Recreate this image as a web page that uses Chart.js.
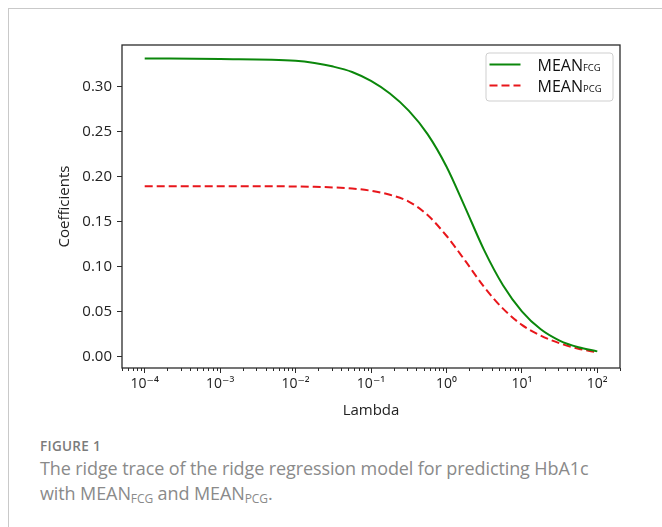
<!DOCTYPE html>
<html>
<head>
<meta charset="utf-8">
<script src="https://cdn.jsdelivr.net/npm/chart.js@4.4.1/dist/chart.umd.min.js"></script>
<style>
  body { margin: 0; background: #fff; width: 662px; height: 527px; overflow: hidden; position: relative; font-family: "Open Sans", sans-serif; }
  .frame { position: absolute; left: 8px; top: 8px; right: 0; bottom: 0; border-top: 1px solid #c9c9c9; border-left: 1px solid #c9c9c9; }
  #chartBox { position: absolute; left: 0; top: 0; width: 662px; height: 430px; }
  .fig { position: absolute; left: 40px; top: 436px; font-size: 13.5px; line-height: 20px; font-weight: 600; color: #7b7b7b; letter-spacing: 0.3px; }
  .cap { position: absolute; left: 40px; top: 456px; font-size: 18px; line-height: 25px; color: #8a8a8a; white-space: nowrap; letter-spacing: -0.1px; }
  .cap sub { font-size: 12px; vertical-align: -3px; line-height: 0; }
</style>
</head>
<body>
<div class="frame"></div>
<div id="chartBox"><canvas id="ridgeChart" width="662" height="430"></canvas></div>
<div class="fig">FIGURE 1</div>
<div class="cap">The ridge trace of the ridge regression model for predicting HbA1c<br>with MEAN<sub>FCG</sub> and MEAN<sub>PCG</sub>.</div>

<script>
// --- data ---
const lambdas = [0.0001, 0.001, 0.01, 0.0178, 0.0316, 0.0562, 0.1, 0.178, 0.316, 0.562, 1, 1.78, 3.16, 5.62, 10, 17.8, 31.6, 56.2, 100];
const meanFcg = [0.331, 0.3305, 0.3285, 0.326, 0.322, 0.316, 0.306, 0.292, 0.273, 0.247, 0.211, 0.165, 0.118, 0.079, 0.050, 0.030, 0.0175, 0.0100, 0.0055];
const meanPcg = [0.189, 0.189, 0.1888, 0.1884, 0.1877, 0.1865, 0.184, 0.1795, 0.172, 0.157, 0.134, 0.106, 0.077, 0.053, 0.035, 0.023, 0.0145, 0.0085, 0.0042];

const seriesNames = ["MEAN", "MEAN"];
const seriesSubs = ["FCG", "PCG"];

const xTickValues = [1e-4, 1e-3, 1e-2, 1e-1, 1, 10, 100];
const xTickLabels = ["10\u207B\u2074", "10\u207B\u00B3", "10\u207B\u00B2", "10\u207B\u00B9", "10\u2070", "10\u00B9", "10\u00B2"];
const yTickValues = [0, 0.05, 0.10, 0.15, 0.20, 0.25, 0.30];
const yTickLabels = ["0.00", "0.05", "0.10", "0.15", "0.20", "0.25", "0.30"];

const axisColor = "#2b2b2b";
const fontFamily = "'Open Sans', 'DejaVu Sans', sans-serif";

// box around the plot area (matplotlib style)
const framePlugin = {
  id: "frame",
  afterDraw(chart) {
    const { ctx, chartArea: a } = chart;
    ctx.save();
    ctx.strokeStyle = axisColor;
    ctx.lineWidth = 1.3;
    ctx.strokeRect(a.left, a.top, a.right - a.left, a.bottom - a.top);
    ctx.restore();
  }
};

// minor ticks of the log axis
const minorTicksPlugin = {
  id: "minorTicks",
  afterDraw(chart) {
    const { ctx, chartArea: a } = chart;
    const x = chart.scales.x;
    ctx.save();
    ctx.strokeStyle = axisColor;
    ctx.lineWidth = 1;
    for (let d = -5; d <= 2; d++) {
      for (let k = 2; k <= 9; k++) {
        const v = k * Math.pow(10, d);
        if (v < x.min || v > x.max) continue;
        const px = Math.round(x.getPixelForValue(v)) + 0.5;
        ctx.beginPath();
        ctx.moveTo(px, a.bottom);
        ctx.lineTo(px, a.bottom + 3);
        ctx.stroke();
      }
    }
    ctx.restore();
  }
};

// legend with subscripts
const subLegendPlugin = {
  id: "subLegend",
  afterDraw(chart) {
    const { ctx, chartArea: a } = chart;
    const w = 127, h = 48;
    const left = a.right - 7.5 - w, top = a.top + 7.5;
    ctx.save();
    ctx.fillStyle = "rgba(255,255,255,0.9)";
    ctx.strokeStyle = "#cfcfcf";
    ctx.lineWidth = 1;
    ctx.beginPath();
    ctx.roundRect(left + 0.5, top + 0.5, w, h, 3);
    ctx.fill();
    ctx.stroke();
    chart.data.datasets.forEach((ds, i) => {
      const y = top + 12 + i * 21;
      ctx.strokeStyle = ds.borderColor;
      ctx.lineWidth = ds.borderWidth;
      ctx.setLineDash(ds.borderDash || []);
      ctx.beginPath();
      ctx.moveTo(left + 4, y);
      ctx.lineTo(left + 35, y);
      ctx.stroke();
      ctx.setLineDash([]);
      ctx.fillStyle = "#111";
      ctx.textBaseline = "alphabetic";
      ctx.font = "16px " + fontFamily;
      const tx = left + 52;
      ctx.fillText(seriesNames[i], tx, y + 6);
      const mw = ctx.measureText(seriesNames[i]).width;
      ctx.font = "9.5px " + fontFamily;
      ctx.fillText(seriesSubs[i], tx + mw, y + 6);
    });
    ctx.restore();
  }
};

new Chart(document.getElementById("ridgeChart"), {
  type: "line",
  data: {
    datasets: [
      {
        label: "MEANFCG",
        data: lambdas.map((l, i) => ({ x: l, y: meanFcg[i] })),
        borderColor: "#0b870b",
        borderWidth: 2,
        pointRadius: 0,
        fill: false,
        cubicInterpolationMode: "monotone"
      },
      {
        label: "MEANPCG",
        data: lambdas.map((l, i) => ({ x: l, y: meanPcg[i] })),
        borderColor: "#e8161b",
        borderWidth: 2,
        borderDash: [8, 4],
        pointRadius: 0,
        fill: false,
        cubicInterpolationMode: "monotone"
      }
    ]
  },
  options: {
    responsive: false,
    animation: false,
    devicePixelRatio: 1,
    layout: { padding: { left: 52, top: 45, right: 42, bottom: 10 } },
    plugins: { legend: { display: false }, tooltip: { enabled: false } },
    scales: {
      x: {
        type: "logarithmic",
        min: 5.0e-5,
        max: 200,
        afterBuildTicks: (s) => { s.ticks = xTickValues.map(v => ({ value: v })); },
        afterFit: (s) => { s.height = 52; },
        border: { display: false },
        grid: { drawOnChartArea: false, drawTicks: true, tickLength: 5, tickColor: axisColor, tickWidth: 1 },
        ticks: {
          autoSkip: false, maxRotation: 0, padding: 3, color: "#222",
          font: { family: fontFamily, size: 14 },
          callback: (v, i) => xTickLabels[i]
        },
        title: { display: true, text: "Lambda", color: "#222", font: { family: fontFamily, size: 15 }, padding: { top: 0, bottom: 0 } }
      },
      y: {
        min: -0.013,
        max: 0.346,
        afterBuildTicks: (s) => { s.ticks = yTickValues.map(v => ({ value: v })); },
        afterFit: (s) => { s.width = 70; },
        border: { display: false },
        grid: { drawOnChartArea: false, drawTicks: true, tickLength: 5, tickColor: axisColor, tickWidth: 1 },
        ticks: {
          padding: 5, color: "#222",
          font: { family: fontFamily, size: 15 },
          callback: (v, i) => yTickLabels[i]
        },
        title: { display: true, text: "Coefficients", color: "#222", font: { family: fontFamily, size: 15 }, padding: { top: 4, bottom: 0 } }
      }
    }
  },
  plugins: [framePlugin, minorTicksPlugin, subLegendPlugin]
});
</script>
</body>
</html>
